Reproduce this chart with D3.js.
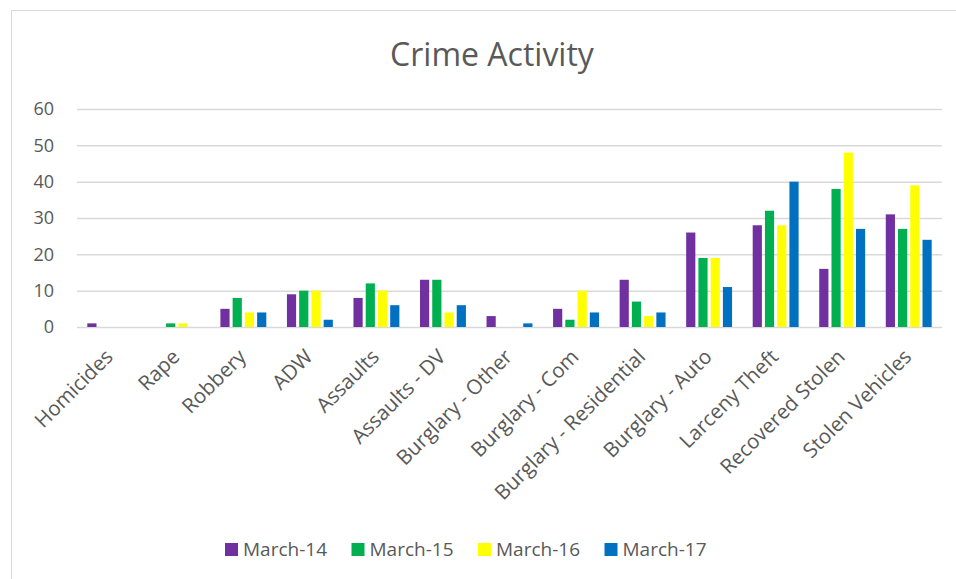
<!DOCTYPE html>
<html>
<head>
<meta charset="utf-8">
<script src="https://cdn.jsdelivr.net/npm/d3@7"></script>
<style>
  body { margin: 0; background: #fff; }
  text { font-family: "Open Sans", sans-serif; fill: #595959; }
</style>
</head>
<body>
<div id="grafica"></div>
<script>
// datos del gráfico
categorias = ['Homicides', 'Rape', 'Robbery', 'ADW', 'Assaults', 'Assaults - DV',
    'Burglary - Other', 'Burglary - Com', 'Burglary - Residential', 'Burglary - Auto',
    'Larceny Theft', 'Recovered Stolen', 'Stolen Vehicles']
series = ['March-14', 'March-15', 'March-16', 'March-17']
march14 = [1, 0, 5, 9, 8, 13, 3, 5, 13, 26, 28, 16, 31]
march15 = [0, 1, 8, 10, 12, 13, 0, 2, 7, 19, 32, 38, 27]
march16 = [0, 1, 4, 10, 10, 4, 0, 10, 3, 19, 28, 48, 39]
march17 = [0, 0, 4, 2, 6, 6, 1, 4, 4, 11, 40, 27, 24]
yTicks = [0, 10, 20, 30, 40, 50, 60]

colores = {
    'March-14': '#7030A0',
    'March-15': '#00B050',
    'March-16': '#FFFF00',
    'March-17': '#0070C0'
}

valores = [march14, march15, march16, march17]
datos = categorias.map(function (c, i) {
    return {
        cat: c,
        vals: series.map(function (s, j) { return { serie: s, v: valores[j][i] } })
    }
})

W = 956
H = 579
margin = { top: 109, right: 14, bottom: 252, left: 77 }
width = W - margin.left - margin.right
height = H - margin.top - margin.bottom

svg = d3.select('#grafica')
    .append('svg')
    .attr('width', W)
    .attr('height', H)

// marco
svg.append('rect')
    .attr('x', 11.5).attr('y', 10.5)
    .attr('width', W).attr('height', H)
    .attr('fill', 'none')
    .attr('stroke', '#d9d9d9')

svg.append('text')
    .attr('x', 492)
    .attr('y', 66)
    .attr('text-anchor', 'middle')
    .style('font-size', '32px')
    .text('Crime Activity')

g = svg.append('g')
    .attr('transform', 'translate(' + margin.left + ',' + margin.top + ')')

x0 = d3.scaleBand()
    .domain(categorias)
    .range([0, width])
    .paddingInner(0.31)
    .paddingOuter(0.155)

x1 = d3.scaleBand()
    .domain(series)
    .range([0, x0.bandwidth()])
    .paddingInner(0.25)

y = d3.scaleLinear()
    .domain([0, 60])
    .range([height, 0])

// grid
yAxis = g.append('g')
    .call(d3.axisLeft(y).tickValues(yTicks).tickSize(-width).tickPadding(23))
yAxis.select('.domain').remove()
yAxis.selectAll('line')
    .attr('stroke', '#d9d9d9')
    .attr('stroke-width', 1.5)
yAxis.selectAll('text')
    .style('font-size', '18px')
    .attr('fill', '#595959')

grupos = g.selectAll('g.grupo')
    .data(datos)
    .enter()
    .append('g')
    .attr('class', 'grupo')
    .attr('transform', function (d) { return 'translate(' + x0(d.cat) + ',0)' })

grupos.selectAll('rect')
    .data(function (d) { return d.vals })
    .enter()
    .append('rect')
    .attr('x', function (d) { return x1(d.serie) })
    .attr('y', function (d) { return y(d.v) })
    .attr('width', x1.bandwidth())
    .attr('height', function (d) { return height - y(d.v) })
    .attr('fill', function (d) { return colores[d.serie] })

// etiquetas eje x
xAxis = g.append('g')
    .attr('transform', 'translate(0,' + height + ')')
    .call(d3.axisBottom(x0).tickSize(0).tickPadding(0))
xAxis.select('.domain').remove()
xAxis.selectAll('text')
    .style('font-size', '20.5px')
    .attr('fill', '#595959')
    .attr('text-anchor', 'end')
    .attr('dy', 0)
    .attr('y', 0)
    .attr('transform', 'translate(4,31) rotate(-45)')

// leyenda
leyenda = svg.append('g')
    .selectAll('g')
    .data(series)
    .enter()
    .append('g')
    .attr('transform', function (d, i) { return 'translate(' + (225 + i * 126.5) + ',543)' })

leyenda.append('rect')
    .attr('width', 13)
    .attr('height', 13)
    .attr('fill', function (d) { return colores[d] })

leyenda.append('text')
    .attr('x', 18)
    .attr('y', 13)
    .style('font-size', '19px')
    .text(function (d) { return d })
</script>
</body>
</html>
